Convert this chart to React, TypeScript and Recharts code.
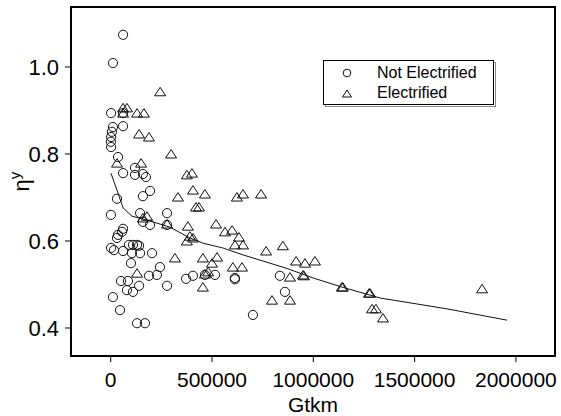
import React from 'react';
import { ScatterChart, Scatter, XAxis, YAxis, ReferenceArea } from 'recharts';

const FONT = '"Liberation Sans", Arial, Helvetica, sans-serif';

const xTicks = [0, 500000, 1000000, 1500000, 2000000];
const yTicks = [0.4, 0.6, 0.8, 1.0];
const xDomain = [-196000, 2193000];
const yDomain = [0.3356, 1.1379];

const notElectrified = [
  { gtkm: 61000, eta: 1.074 }, { gtkm: 11000, eta: 1.009 }, { gtkm: 2000, eta: 0.894 },
  { gtkm: 61000, eta: 0.894 }, { gtkm: 11000, eta: 0.862 }, { gtkm: 61000, eta: 0.864 },
  { gtkm: 6000, eta: 0.851 }, { gtkm: 2000, eta: 0.839 }, { gtkm: 1000, eta: 0.828 },
  { gtkm: 2000, eta: 0.816 }, { gtkm: 36000, eta: 0.793 }, { gtkm: 61000, eta: 0.756 },
  { gtkm: 120000, eta: 0.768 }, { gtkm: 120000, eta: 0.752 }, { gtkm: 159000, eta: 0.754 },
  { gtkm: 174000, eta: 0.747 }, { gtkm: 194000, eta: 0.715 }, { gtkm: 159000, eta: 0.703 },
  { gtkm: 31000, eta: 0.697 }, { gtkm: 1000, eta: 0.660 }, { gtkm: 145000, eta: 0.664 },
  { gtkm: 278000, eta: 0.664 }, { gtkm: 159000, eta: 0.644 }, { gtkm: 194000, eta: 0.637 },
  { gtkm: 278000, eta: 0.637 }, { gtkm: 61000, eta: 0.628 }, { gtkm: 56000, eta: 0.621 },
  { gtkm: 36000, eta: 0.614 }, { gtkm: 31000, eta: 0.607 }, { gtkm: 2000, eta: 0.584 },
  { gtkm: 16000, eta: 0.579 }, { gtkm: 90000, eta: 0.591 }, { gtkm: 110000, eta: 0.591 },
  { gtkm: 130000, eta: 0.591 }, { gtkm: 140000, eta: 0.589 }, { gtkm: 61000, eta: 0.577 },
  { gtkm: 105000, eta: 0.572 }, { gtkm: 145000, eta: 0.572 }, { gtkm: 204000, eta: 0.572 },
  { gtkm: 100000, eta: 0.549 }, { gtkm: 243000, eta: 0.540 }, { gtkm: 51000, eta: 0.508 },
  { gtkm: 85000, eta: 0.508 }, { gtkm: 140000, eta: 0.497 }, { gtkm: 80000, eta: 0.487 },
  { gtkm: 110000, eta: 0.483 }, { gtkm: 189000, eta: 0.520 }, { gtkm: 228000, eta: 0.522 },
  { gtkm: 278000, eta: 0.497 }, { gtkm: 372000, eta: 0.513 }, { gtkm: 406000, eta: 0.520 },
  { gtkm: 465000, eta: 0.522 }, { gtkm: 515000, eta: 0.522 }, { gtkm: 613000, eta: 0.515 },
  { gtkm: 613000, eta: 0.512 }, { gtkm: 702000, eta: 0.430 }, { gtkm: 835000, eta: 0.520 },
  { gtkm: 860000, eta: 0.483 }, { gtkm: 11000, eta: 0.471 }, { gtkm: 46000, eta: 0.441 },
  { gtkm: 130000, eta: 0.411 }, { gtkm: 169000, eta: 0.411 },
];

const electrified = [
  { gtkm: 244000, eta: 0.943 }, { gtkm: 61000, eta: 0.906 }, { gtkm: 80000, eta: 0.906 },
  { gtkm: 130000, eta: 0.894 }, { gtkm: 164000, eta: 0.894 }, { gtkm: 61000, eta: 0.894 },
  { gtkm: 140000, eta: 0.846 }, { gtkm: 189000, eta: 0.839 }, { gtkm: 298000, eta: 0.800 },
  { gtkm: 31000, eta: 0.779 }, { gtkm: 150000, eta: 0.779 }, { gtkm: 376000, eta: 0.752 },
  { gtkm: 401000, eta: 0.756 }, { gtkm: 406000, eta: 0.717 }, { gtkm: 465000, eta: 0.708 },
  { gtkm: 332000, eta: 0.701 }, { gtkm: 623000, eta: 0.701 }, { gtkm: 653000, eta: 0.708 },
  { gtkm: 742000, eta: 0.708 }, { gtkm: 421000, eta: 0.678 }, { gtkm: 436000, eta: 0.678 },
  { gtkm: 159000, eta: 0.653 }, { gtkm: 179000, eta: 0.657 }, { gtkm: 278000, eta: 0.639 },
  { gtkm: 381000, eta: 0.634 }, { gtkm: 520000, eta: 0.639 }, { gtkm: 564000, eta: 0.621 },
  { gtkm: 599000, eta: 0.625 }, { gtkm: 391000, eta: 0.611 }, { gtkm: 376000, eta: 0.600 },
  { gtkm: 406000, eta: 0.607 }, { gtkm: 633000, eta: 0.609 }, { gtkm: 613000, eta: 0.591 },
  { gtkm: 653000, eta: 0.591 }, { gtkm: 767000, eta: 0.577 }, { gtkm: 850000, eta: 0.589 },
  { gtkm: 317000, eta: 0.561 }, { gtkm: 455000, eta: 0.561 }, { gtkm: 525000, eta: 0.563 },
  { gtkm: 500000, eta: 0.549 }, { gtkm: 603000, eta: 0.540 }, { gtkm: 648000, eta: 0.540 },
  { gtkm: 915000, eta: 0.554 }, { gtkm: 959000, eta: 0.549 }, { gtkm: 1008000, eta: 0.554 },
  { gtkm: 130000, eta: 0.526 }, { gtkm: 465000, eta: 0.524 }, { gtkm: 481000, eta: 0.529 },
  { gtkm: 455000, eta: 0.494 }, { gtkm: 796000, eta: 0.464 }, { gtkm: 885000, eta: 0.517 },
  { gtkm: 949000, eta: 0.522 }, { gtkm: 954000, eta: 0.520 }, { gtkm: 885000, eta: 0.464 },
  { gtkm: 1141000, eta: 0.494 }, { gtkm: 1146000, eta: 0.494 }, { gtkm: 1275000, eta: 0.480 },
  { gtkm: 1280000, eta: 0.480 }, { gtkm: 1290000, eta: 0.444 }, { gtkm: 1309000, eta: 0.444 },
  { gtkm: 1344000, eta: 0.423 }, { gtkm: 1833000, eta: 0.490 },
];

const fitted = [
  { gtkm: 1000, eta: 0.756 }, { gtkm: 31000, eta: 0.717 }, { gtkm: 61000, eta: 0.676 },
  { gtkm: 105000, eta: 0.657 }, { gtkm: 155000, eta: 0.651 }, { gtkm: 228000, eta: 0.641 },
  { gtkm: 292000, eta: 0.632 }, { gtkm: 391000, eta: 0.607 }, { gtkm: 455000, eta: 0.595 },
  { gtkm: 553000, eta: 0.584 }, { gtkm: 653000, eta: 0.568 }, { gtkm: 786000, eta: 0.549 },
  { gtkm: 875000, eta: 0.536 }, { gtkm: 999000, eta: 0.515 }, { gtkm: 1142000, eta: 0.494 },
  { gtkm: 1329000, eta: 0.469 }, { gtkm: 1660000, eta: 0.444 }, { gtkm: 1956000, eta: 0.418 },
];

const Circle = (props: any) => {
  const { cx, cy } = props;
  if (cx == null || cy == null) return <g />;
  return <circle cx={cx} cy={cy} r={4.6} fill="none" stroke="#111" strokeWidth={1} />;
};

const Triangle = (props: any) => {
  const { cx, cy } = props;
  if (cx == null || cy == null) return <g />;
  const pts = `${cx},${cy - 4.5} ${cx - 5.5},${cy + 4} ${cx + 5.5},${cy + 4}`;
  return <polygon points={pts} fill="none" stroke="#111" strokeWidth={1} />;
};

const NoShape = () => <g />;

const YLabel = (props: any) => {
  const vb = props.viewBox || { x: 0, y: 7, width: 71, height: 349 };
  const cy = vb.y + vb.height / 2;
  return (
    <text
      transform={`translate(29, ${cy}) rotate(-90)`}
      textAnchor="middle"
      fontFamily={FONT}
      fontSize={22}
      fill="#000"
    >
      <tspan>η</tspan>
      <tspan dy={-9} fontSize={15}>y</tspan>
    </text>
  );
};

const XLabel = (props: any) => {
  const vb = props.viewBox || { x: 71, y: 356, width: 484, height: 60 };
  return (
    <text
      x={vb.x + vb.width / 2}
      y={vb.y + 56}
      textAnchor="middle"
      fontFamily={FONT}
      fontSize={21}
      fill="#000"
    >
      Gtkm
    </text>
  );
};

const LegendBox = () => (
  <svg
    width={172}
    height={47}
    style={{ position: 'absolute', left: 323, top: 60, overflow: 'visible' }}
  >
    <rect x={1.5} y={1.5} width={170} height={44} fill="#fff" stroke="#888" strokeWidth={1} transform="translate(1,1)" />
    <rect x={0.5} y={0.5} width={170} height={44} fill="#fff" stroke="#000" strokeWidth={1} />
    <circle cx={24} cy={13} r={3.8} fill="none" stroke="#111" strokeWidth={1} />
    <polygon points="24,30 19.5,37 28.5,37" fill="none" stroke="#111" strokeWidth={1} />
    <text x={54} y={18} fontFamily={FONT} fontSize={16} fill="#000">Not Electrified</text>
    <text x={54} y={38} fontFamily={FONT} fontSize={16} fill="#000">Electrified</text>
  </svg>
);

export default function App() {
  return (
    <div style={{ position: 'absolute', left: 0, top: 0, width: 561, height: 416, background: '#fff' }}>
      <ScatterChart
        width={561}
        height={416}
        margin={{ top: 7, right: 6, bottom: 0, left: 0 }}
      >
        <XAxis
          type="number"
          dataKey="gtkm"
          domain={xDomain}
          allowDataOverflow
          ticks={xTicks}
          height={60}
          axisLine={false}
          tickSize={6}
          tickMargin={10}
          tickLine={{ stroke: '#000', strokeWidth: 1 }}
          tick={{ fill: '#000', fontSize: 21, fontFamily: FONT }}
          interval={0}
          label={<XLabel />}
        />
        <YAxis
          type="number"
          dataKey="eta"
          domain={yDomain}
          allowDataOverflow
          ticks={yTicks}
          width={71}
          axisLine={false}
          tickSize={6}
          tickMargin={6}
          tickLine={{ stroke: '#000', strokeWidth: 1 }}
          tick={{ fill: '#000', fontSize: 22, fontFamily: FONT }}
          tickFormatter={(v: number) => v.toFixed(1)}
          interval={0}
          label={<YLabel />}
        />
        <ReferenceArea
          x1={xDomain[0]}
          x2={xDomain[1]}
          y1={yDomain[0]}
          y2={yDomain[1]}
          fill="none"
          stroke="#000"
          strokeWidth={2}
          ifOverflow="visible"
        />
        <Scatter
          name="fit"
          data={fitted}
          line={{ stroke: '#111', strokeWidth: 1 }}
          lineType="joint"
          shape={<NoShape />}
          isAnimationActive={false}
          legendType="none"
        />
        <Scatter
          name="Not Electrified"
          data={notElectrified}
          shape={<Circle />}
          isAnimationActive={false}
        />
        <Scatter
          name="Electrified"
          data={electrified}
          shape={<Triangle />}
          isAnimationActive={false}
        />
      </ScatterChart>
      <LegendBox />
    </div>
  );
}
